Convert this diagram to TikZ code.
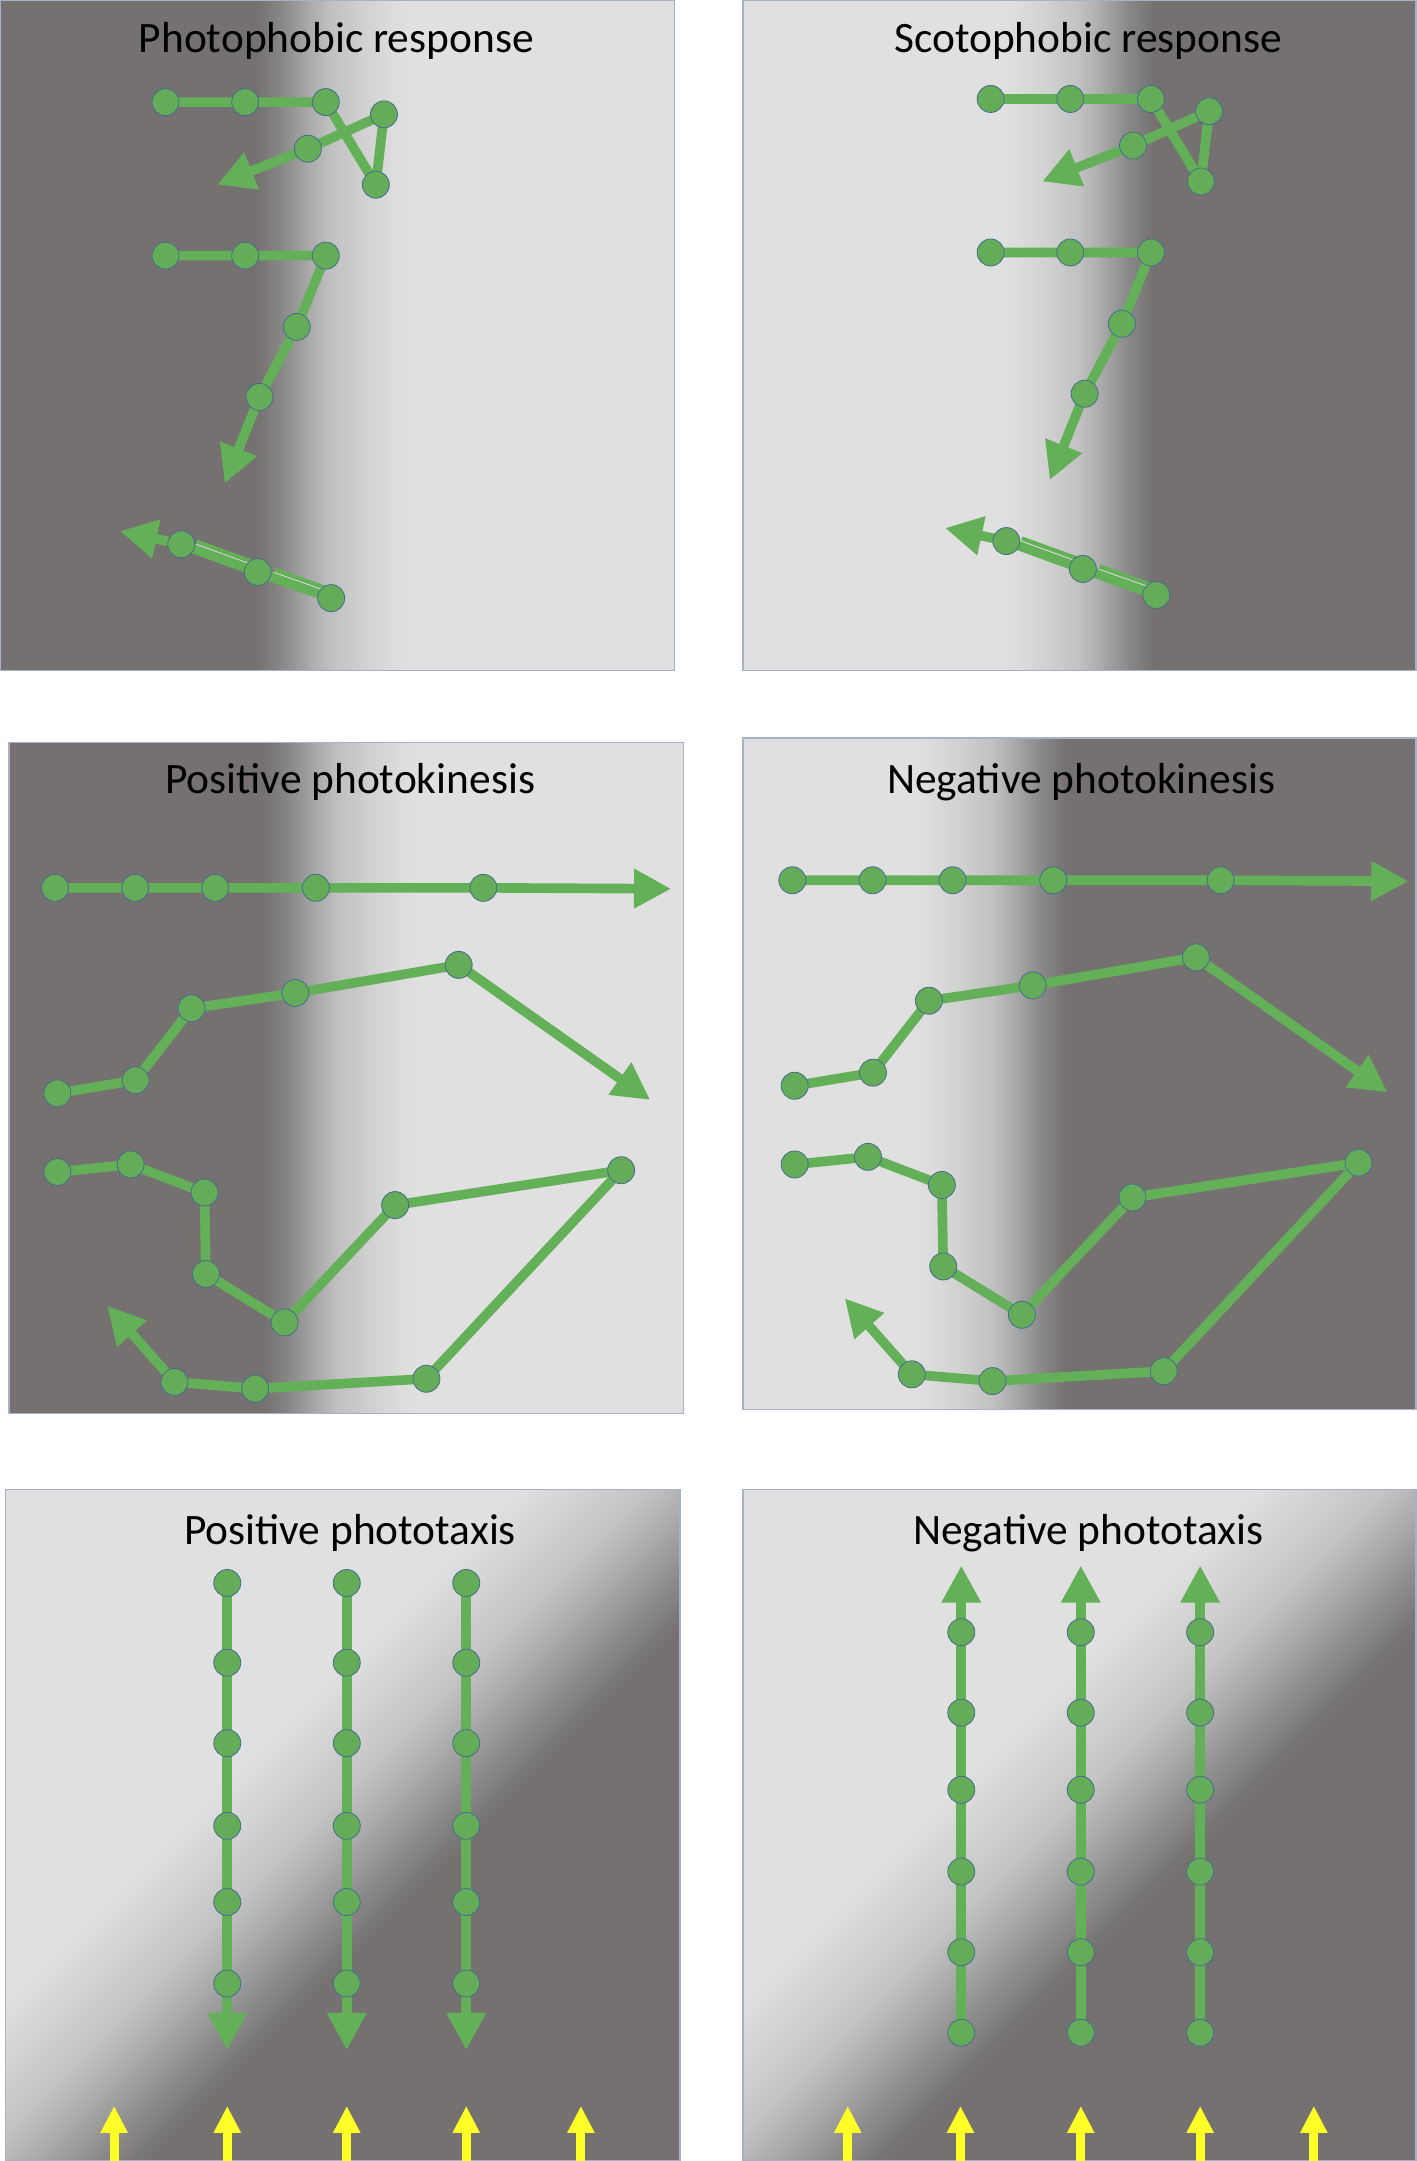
\documentclass[tikz,border=0pt]{standalone}
\usepackage{fontspec}
\setmainfont{Carlito}
\usetikzlibrary{arrows.meta,calc}
\pgfdeclarelayer{bg}
\pgfdeclarelayer{lines}
\pgfsetlayers{bg,lines,main}
\definecolor{dk}{RGB}{116,113,112}
\definecolor{lt}{RGB}{224,224,224}
\definecolor{g1}{RGB}{138,137,137}
\definecolor{g2}{RGB}{168,168,168}
\definecolor{g3}{RGB}{192,192,192}
\definecolor{g4}{RGB}{208,208,208}
\definecolor{g5}{RGB}{220,220,220}
\definecolor{h1}{RGB}{210,210,210}
\definecolor{h2}{RGB}{196,196,196}
\definecolor{h3}{RGB}{168,168,168}
\definecolor{h4}{RGB}{144,143,143}
\definecolor{h5}{RGB}{124,122,122}
\definecolor{gfill}{RGB}{100,172,88}
\definecolor{gline}{RGB}{100,176,88}
\definecolor{dotedge}{RGB}{70,110,140}
\definecolor{bord}{RGB}{165,178,200}
\definecolor{yel}{RGB}{255,255,40}
\definecolor{gapcol}{RGB}{215,225,215}

% horizontal gradient: #1 dark edge x, #2 direction (+1 light to right, -1 light to left), #3 top, #4 bottom
\newcommand\hgrad[4]{%
  \foreach \da/\db/\ca/\cb in {0/19/dk/g1,19/37/g1/g2,37/53/g2/g3,53/76/g3/g4,76/98/g4/g5,98/110/g5/lt}{%
    \ifnum#2>0
      \shade[left color=\ca,right color=\cb] ({#1+\da},#3) rectangle ({#1+\db+0.5},#4);
    \else
      \shade[left color=\cb,right color=\ca] ({#1-\db-0.5},#3) rectangle ({#1-\da},#4);
    \fi
  }}
% diagonal gradient, #1 = x+y of panel top-left corner
\newcommand\dgrad[1]{%
  \begin{scope}[transform canvas={rotate=-45}]
    \foreach \ra/\rb/\ca/\cb in {370/420/lt/h1,420/465/h1/h2,465/510/h2/h3,510/545/h3/h4,545/575/h4/h5,575/592/h5/dk}{%
      \shade[left color=\ca,right color=\cb] ({(\ra+#1)/1.41421},0) rectangle ({(\rb+#1)/1.41421+0.5},1200);
    }
    \fill[dk] ({(592+#1)/1.41421},0) rectangle ({(592+#1)/1.41421+1500},1200);
  \end{scope}}

\newcommand\phobic[3]{%
  \begin{scope}[shift={(#2,#3)}]
    \node[dot] (#1a1) at (120.1,74.1) {};
    \node[dot] (#1a2) at (177.9,74.1) {};
    \node[dot] (#1a3) at (236.4,74.1) {};
    \node[dot] (#1a4) at (272.7,134.0) {};
    \node[dot] (#1a5) at (278.6,83.0) {};
    \node[dot] (#1a6) at (223.4,107.9) {};
    \coordinate (#1ta) at (157.5,134.0);
    \node[dot] (#1b1) at (120.1,185.5) {};
    \node[dot] (#1b2) at (177.9,185.5) {};
    \node[dot] (#1b3) at (236.4,185.5) {};
    \node[dot] (#1b4) at (215.3,237.2) {};
    \node[dot] (#1b5) at (188.3,288.0) {};
    \coordinate (#1tb) at (163,350.7);
    \node[dot] (#1c1) at (131.5,394.9) {};
    \node[dot] (#1c2) at (187,415.1) {};
    \node[dot] (#1c3) at (240.3,434.0) {};
    \coordinate (#1tc) at (87,385.4);
  \end{scope}
  \begin{pgfonlayer}{lines}
    \draw[trailarrow] (#1a1.center) -- (#1a2.center) -- (#1a3.center) -- (#1a4.center) -- (#1a5.center) -- (#1a6.center) -- (#1ta);
    \draw[trailarrow] (#1b1.center) -- (#1b2.center) -- (#1b3.center) -- (#1b4.center) -- (#1b5.center) -- (#1tb);
    \draw[trailarrow] (#1c3.center) -- (#1c2.center) -- (#1c1.center) -- (#1tc);
    \draw[gapcol,line width=0.8pt] ($(#1c1.center)!10pt!(#1c2.center)+(1.3,-3.6)$) -- ($(#1c2.center)+(1.3,-3.6)$);
    \draw[gapcol,line width=0.8pt] ($(#1c2.center)!11pt!(#1c3.center)+(1.3,-3.6)$) -- ($(#1c3.center)+(1.3,-3.6)$);
    \draw[gline,line width=3pt] ($(#1c1.center)!10pt!(#1c2.center)+(1.9,-5.3)$) -- ($(#1c2.center)+(1.9,-5.3)$);
    \draw[gline,line width=3pt] ($(#1c2.center)!11pt!(#1c3.center)+(1.9,-5.3)$) -- ($(#1c3.center)+(1.9,-5.3)$);
  \end{pgfonlayer}}

\newcommand\kinesis[3]{%
  \begin{scope}[shift={(#2,#3)}]
    \node[dot] (#1p1) at (39.9,644.2) {};
    \node[dot] (#1p2) at (98.1,644.2) {};
    \node[dot] (#1p3) at (156.2,644.2) {};
    \node[dot] (#1p4) at (229.2,644.2) {};
    \node[dot] (#1p5) at (350.7,644.2) {};
    \coordinate (#1tp) at (487,644.9);
    \node[dot] (#1m1) at (41.6,793.3) {};
    \node[dot] (#1m2) at (98.4,783.8) {};
    \node[dot] (#1m3) at (139,731.6) {};
    \node[dot] (#1m4) at (214.3,720.5) {};
    \node[dot] (#1m5) at (332.8,700.1) {};
    \coordinate (#1tm) at (471.8,798.1);
    \node[dot] (#1q1) at (41.6,850.4) {};
    \node[dot] (#1q2) at (94.8,844.9) {};
    \node[dot] (#1q3) at (148.4,865.3) {};
    \node[dot] (#1q4) at (149.4,924.4) {};
    \node[dot] (#1q5) at (206.5,959.5) {};
    \node[dot] (#1q6) at (286.7,874.4) {};
    \node[dot] (#1q7) at (450.7,849.1) {};
    \node[dot] (#1q8) at (309.4,1000.4) {};
    \node[dot] (#1q9) at (185.1,1007.6) {};
    \node[dot] (#1q10) at (126.6,1002.7) {};
    \coordinate (#1tq) at (77.9,947.5);
  \end{scope}
  \begin{pgfonlayer}{lines}
    \draw[trailarrow] (#1p1.center) -- (#1p2.center) -- (#1p3.center) -- (#1p4.center) -- (#1p5.center) -- (#1tp);
    \draw[trailarrow] (#1m1.center) -- (#1m2.center) -- (#1m3.center) -- (#1m4.center) -- (#1m5.center) -- (#1tm);
    \draw[trailarrow] (#1q1.center) -- (#1q2.center) -- (#1q3.center) -- (#1q4.center) -- (#1q5.center) -- (#1q6.center) -- (#1q7.center) -- (#1q8.center) -- (#1q9.center) -- (#1q10.center) -- (#1tq);
  \end{pgfonlayer}}

\begin{document}
\begin{tikzpicture}[x=1pt,y=-1pt,
  dot/.style={circle,fill=gfill,draw=dotedge,line width=0.6pt,minimum size=19.6pt,inner sep=0pt},
  trail/.style={draw=gline,line width=7pt,line join=round},
  trailarrow/.style={trail,-{Triangle[length=27pt,width=27pt]}},
  panelframe/.style={draw=bord,line width=1pt},
  ttl/.style={font=\fontsize{31.5}{38}\selectfont,anchor=base,inner sep=0pt,text=black},
  sun/.style={draw=yel,line width=6.5pt,-{Triangle[length=19.6pt,width=18.5pt]}}]
\useasboundingbox (0,0) rectangle (1028,1568);

\begin{pgfonlayer}{bg}
  \fill[white] (0,0) rectangle (1028,1568);
  % panel 1
  \begin{scope}
    \clip (0,0) rectangle (489.5,486.5);
    \fill[lt] (0,0) rectangle (489.5,486.5);
    \fill[dk] (0,0) rectangle (186.5,486.5);
    \hgrad{186}{1}{0}{486.5}
  \end{scope}
  % panel 2
  \begin{scope}
    \clip (539.1,0) rectangle (1028,486.5);
    \fill[lt] (539.1,0) rectangle (1028,486.5);
    \fill[dk] (837,0) rectangle (1028,486.5);
    \hgrad{837.5}{-1}{0}{486.5}
  \end{scope}
  % panel 3
  \begin{scope}
    \clip (6.5,538.7) rectangle (496,1025.7);
    \fill[lt] (6.5,538.7) rectangle (496,1025.7);
    \fill[dk] (6.5,538.7) rectangle (192,1025.7);
    \hgrad{191.5}{1}{538.7}{1025.7}
  \end{scope}
  % panel 4
  \begin{scope}
    \clip (539.1,535.4) rectangle (1028,1022.5);
    \fill[lt] (539.1,535.4) rectangle (1028,1022.5);
    \fill[dk] (773.5,535.4) rectangle (1028,1022.5);
    \hgrad{774}{-1}{535.4}{1022.5}
  \end{scope}
  % panel 5
  \begin{scope}
    \clip (3.9,1080.7) rectangle (493.5,1568);
    \fill[lt] (3.9,1080.7) rectangle (493.5,1568);
    \dgrad{1084.6}
  \end{scope}
  % panel 6
  \begin{scope}
    \clip (539.1,1080.7) rectangle (1028,1568);
    \fill[lt] (539.1,1080.7) rectangle (1028,1568);
    \dgrad{1619.8}
  \end{scope}
\end{pgfonlayer}

% frames
\draw[panelframe] (0.5,0.5) rectangle (489.5,486.5);
\draw[panelframe] (539.1,0.5) rectangle (1027.5,486.5);
\draw[panelframe] (6.5,538.7) rectangle (496,1025.7);
\draw[panelframe] (539.1,535.4) rectangle (1027.5,1022.5);
\draw[panelframe] (3.9,1080.7) rectangle (493.5,1567.5);
\draw[panelframe] (539.1,1080.7) rectangle (1027.5,1567.5);

% titles
\node[ttl] (t1) at (244,38) {Photophobic response};
\node[ttl] (t2) at (789.5,37.9) {Scotophobic response};
\node[ttl] (t3) at (254.1,576) {Positive photokinesis};
\node[ttl] (t4) at (784.5,576) {Negative photokinesis};
\node[ttl] (t5) at (254,1120.5) {Positive phototaxis};
\node[ttl] (t6) at (789.7,1120.5) {Negative phototaxis};

% photophobic / scotophobic
\phobic{ph}{0}{0}
\phobic{sc}{598.7}{-2.3}

% photokinesis
\kinesis{pk}{0}{0}
\kinesis{nk}{535}{-5.5}

% positive phototaxis
\foreach \x [count=\i] in {164.9,251.6,338.3}{
  \foreach \y [count=\j] in {1148.6,1206.4,1264.8,1324.8,1380.1,1439.2}{
    \node[dot] (pt\i-\j) at (\x,\y) {};
  }
  \coordinate (pt\i-tip) at (\x,1487.5);
  \begin{pgfonlayer}{lines}
    \draw[trailarrow] (pt\i-1.center) -- (pt\i-tip);
  \end{pgfonlayer}
}
% negative phototaxis
\foreach \x [count=\i] in {697.5,784.2,870.8}{
  \foreach \y [count=\j] in {1184.3,1242.7,1298.6,1358.0,1416.5,1474.9}{
    \node[dot] (nt\i-\j) at (\x,\y) {};
  }
  \coordinate (nt\i-tip) at (\x,1135.9);
  \begin{pgfonlayer}{lines}
    \draw[trailarrow] (nt\i-6.center) -- (nt\i-tip);
  \end{pgfonlayer}
}
% light arrows
\foreach \x [count=\i] in {82.8,164.9,251.6,338.3,421.5}{
  \coordinate (ysa\i) at (\x,1568);
  \coordinate (yta\i) at (\x,1528);
  \draw[sun] (ysa\i) -- (yta\i);
}
\foreach \x [count=\i] in {615.1,696.9,784.2,870.8,953.3}{
  \coordinate (ysb\i) at (\x,1568);
  \coordinate (ytb\i) at (\x,1528);
  \draw[sun] (ysb\i) -- (ytb\i);
}
\end{tikzpicture}
\end{document}
